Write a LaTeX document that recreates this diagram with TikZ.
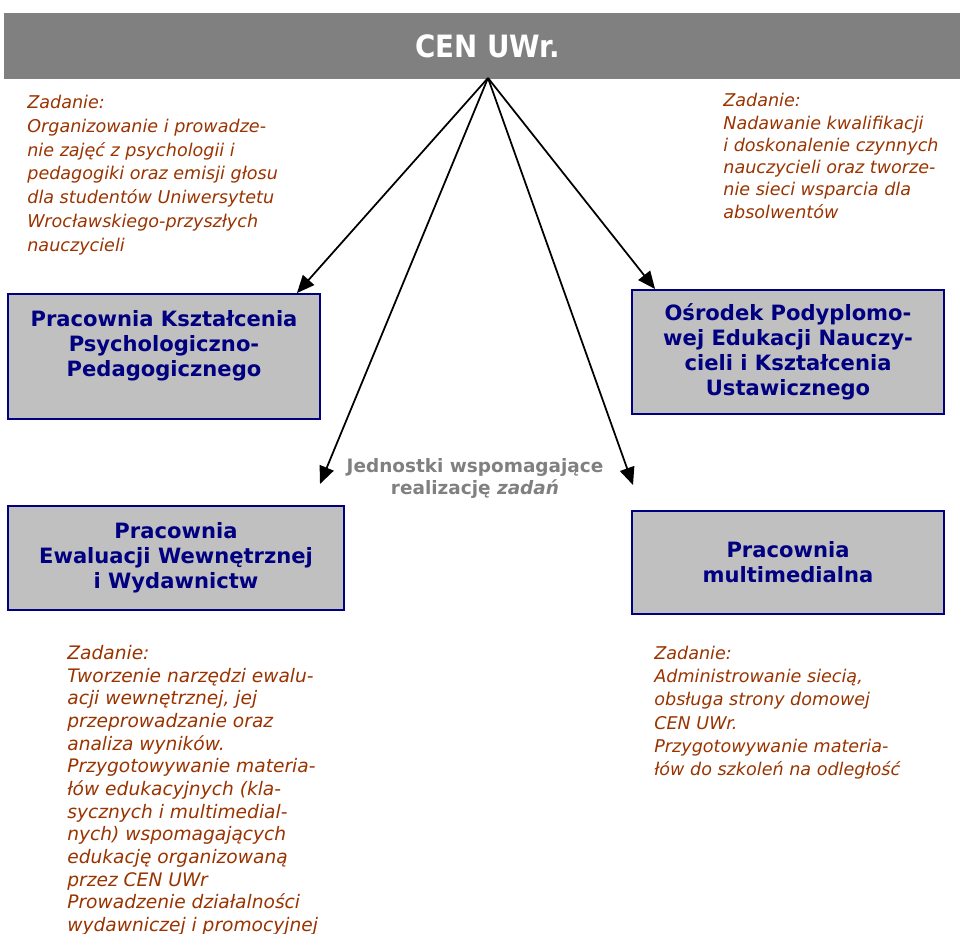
\documentclass[tikz,border=0pt]{standalone}
\usepackage{fontspec}
\setmainfont{DejaVu Sans}
\newfontfamily\condfont{DejaVu Sans Condensed}
\usetikzlibrary{arrows.meta}
\definecolor{navyblue}{RGB}{0,0,128}
\definecolor{boxgray}{RGB}{192,192,192}
\definecolor{bargray}{RGB}{128,128,128}
\definecolor{taskbrown}{RGB}{153,51,0}
\begin{document}
\begin{tikzpicture}[x=0.02cm,y=-0.02cm,>={Triangle[length=10pt,width=8.5pt]},
	unit/.style={draw=navyblue,line width=1.1pt,fill=boxgray,text=navyblue,align=center,
		font=\fontsize{12}{14.2}\selectfont\bfseries,minimum width=6.24cm,inner sep=0pt},
	task/.style={text=taskbrown,align=left,anchor=north west,inner sep=0pt,
		font=\fontsize{10}{13.6}\selectfont\itshape}]
	\useasboundingbox (0,0) rectangle (960,933);
	% header
	\node[fill=bargray,minimum width=19.34cm,minimum height=1.32cm,inner sep=0pt,
		text=white,font=\condfont\fontsize{17.5}{19}\selectfont\bfseries] (cen) at (487.5,46) {CEN UWr.};
	\coordinate (top) at (488,78);
	% units
	\node[unit,minimum height=2.5cm,text depth=15pt] (psych) at (164,356.5) {Pracownia Kształcenia\\Psychologiczno-\\Pedagogicznego};
	\node[unit,minimum height=2.48cm] (osrodek) at (788,352) {Ośrodek Podyplomo-\\wej Edukacji Nauczy-\\cieli i Kształcenia\\Ustawicznego};
	\node[unit,minimum width=6.72cm,minimum height=2.08cm] (ewal) at (176,558) {Pracownia\\Ewaluacji Wewnętrznej\\i Wydawnictw};
	\node[unit,minimum height=2.06cm] (multi) at (788,562.5) {Pracownia\\multimedialna};
	\node[text=bargray,align=center,font=\fontsize{10.5}{12.5}\selectfont\bfseries] (wsp) at (475,478) {Jednostki wspomagające\\realizację \textit{zadań}};
	\coordinate (ewalend) at (320,484);
	\coordinate (multiend) at (633,485);
	% arrows
	\draw[->,line width=1pt] (top)--([xshift=-0.48cm]psych.north east);
	\draw[->,line width=1pt] (top)--(ewalend);
	\draw[->,line width=1pt] (top)--(multiend);
	\draw[->,line width=1pt] (top)--([xshift=0.48cm]osrodek.north west);
	% tasks
	\node[task,font=\fontsize{10}{13.5}\selectfont\itshape] (psychtask) at (27,95) {Zadanie:\\Organizowanie i prowadze-\\nie zajęć z psychologii i\\pedagogiki oraz emisji głosu\\dla studentów Uniwersytetu\\Wrocławskiego-przyszłych\\nauczycieli};
	\node[task,font=\fontsize{10}{12.7}\selectfont\itshape] (osrodektask) at (723,93) {Zadanie:\\Nadawanie kwalifikacji\\i doskonalenie czynnych\\nauczycieli oraz tworze-\\nie sieci wsparcia dla\\absolwentów};
	\node[task,font=\fontsize{10.6}{12.9}\selectfont\itshape] (ewaltask) at (67,645) {Zadanie:\\Tworzenie narzędzi ewalu-\\acji wewnętrznej, jej\\przeprowadzanie oraz\\analiza wyników.\\Przygotowywanie materia-\\łów edukacyjnych (kla-\\sycznych i multimedial-\\nych) wspomagających\\edukację organizowaną\\przez CEN UWr\\Prowadzenie działalności\\wydawniczej i promocyjnej};
	\node[task,font=\fontsize{10}{13.15}\selectfont\itshape] (multitask) at (654,646) {Zadanie:\\Administrowanie siecią,\\obsługa strony domowej\\CEN UWr.\\Przygotowywanie materia-\\łów do szkoleń na odległość};
\end{tikzpicture}
\end{document}
